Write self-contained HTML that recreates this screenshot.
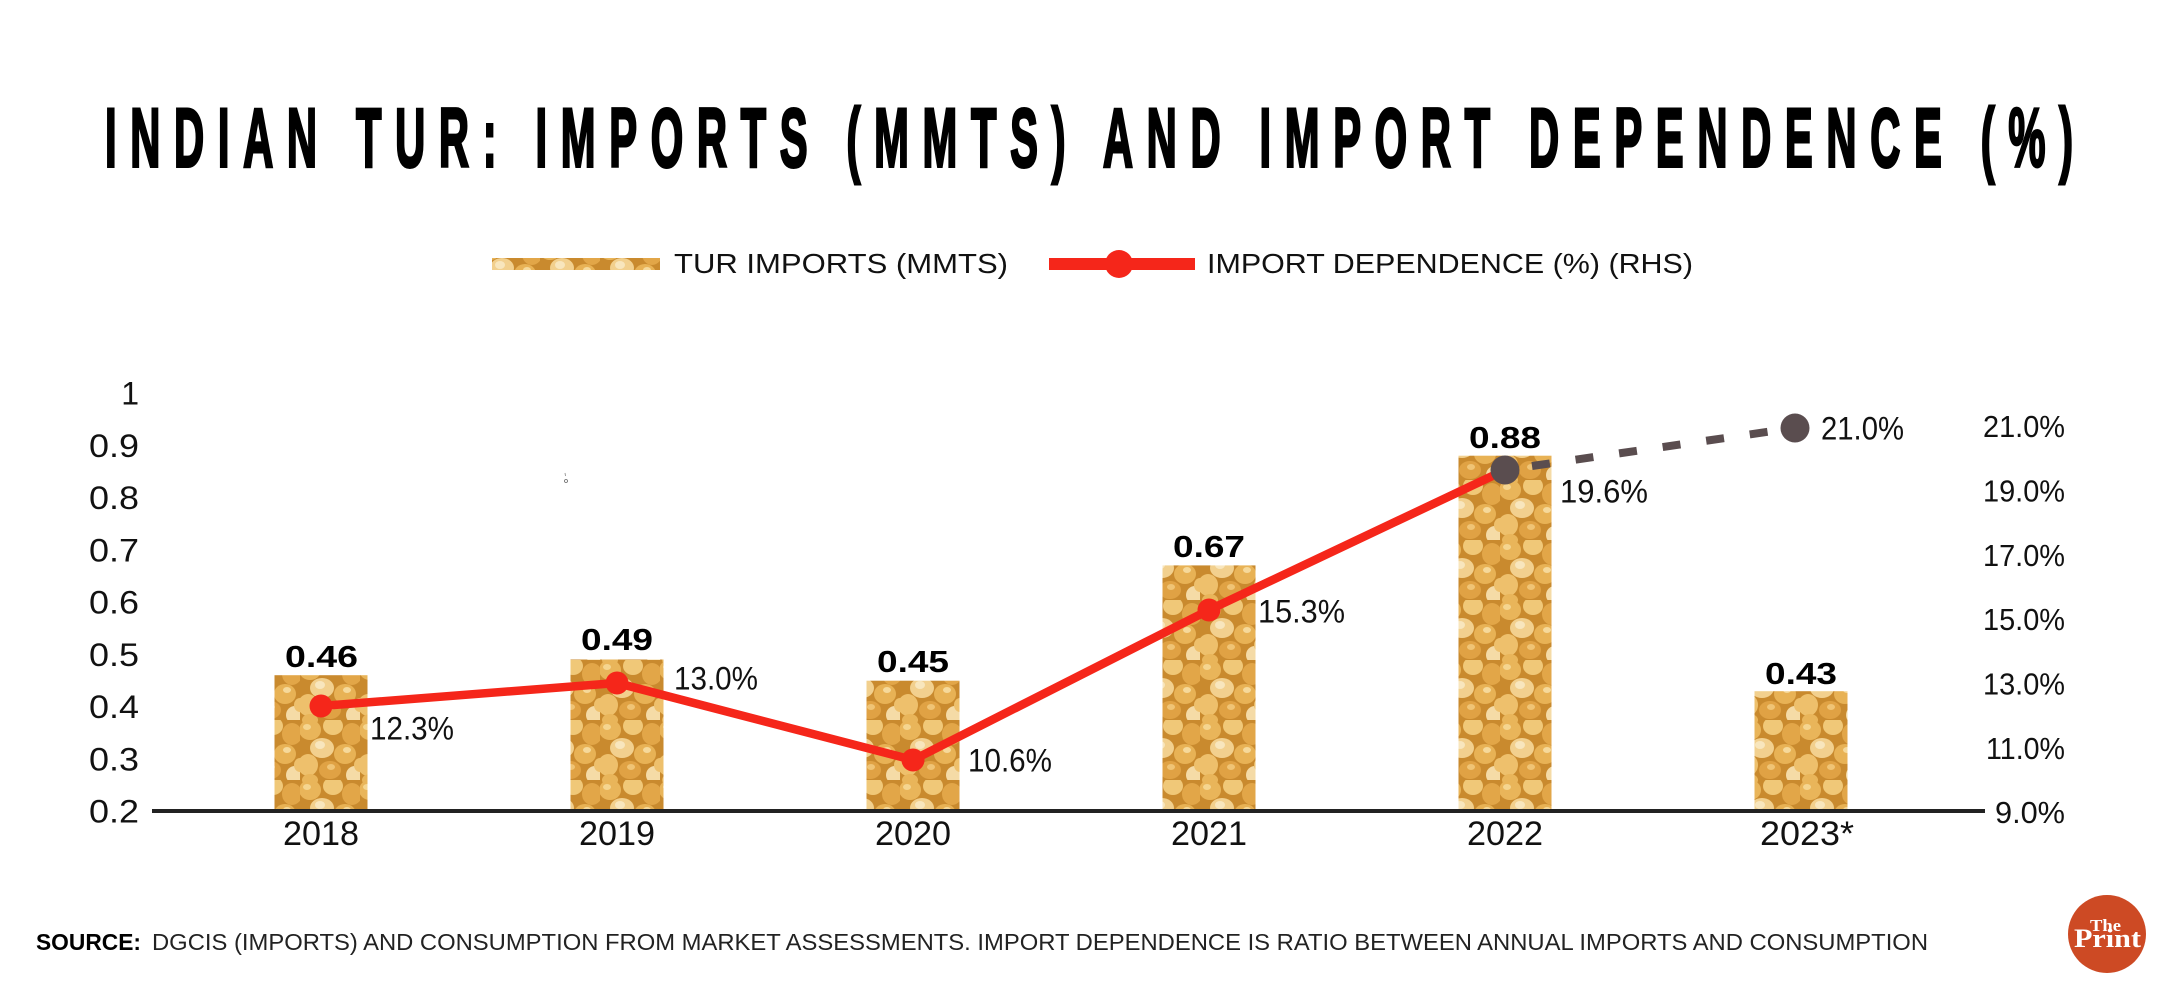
<!DOCTYPE html>
<html>
<head>
<meta charset="utf-8">
<style>
  html, body { margin: 0; padding: 0; background: #ffffff; }
  svg { display: block; }
  text { font-family: "Liberation Sans", "DejaVu Sans", sans-serif; }
</style>
</head>
<body>
<svg width="2162" height="989" viewBox="0 0 2162 989" xmlns="http://www.w3.org/2000/svg">
  <defs>
    <pattern id="dal" width="60" height="60" patternUnits="userSpaceOnUse">
      <rect width="60" height="60" fill="#c98a2e"/>
      <ellipse cx="10" cy="10" rx="11" ry="10" fill="#e9b55a"/>
      <ellipse cx="33" cy="6" rx="10" ry="9" fill="#f0c878"/>
      <ellipse cx="52" cy="14" rx="10" ry="11" fill="#e2a648"/>
      <ellipse cx="22" cy="28" rx="12" ry="10" fill="#f2d08e"/>
      <ellipse cx="45" cy="34" rx="11" ry="10" fill="#e8b255"/>
      <ellipse cx="8" cy="45" rx="10" ry="11" fill="#eec06c"/>
      <ellipse cx="30" cy="50" rx="11" ry="9" fill="#e0a244"/>
      <ellipse cx="55" cy="55" rx="9" ry="9" fill="#f5dba6"/>
      <ellipse cx="60" cy="45" rx="6" ry="7" fill="#eec06c"/>
      <ellipse cx="0" cy="45" rx="6" ry="7" fill="#eec06c"/>
      <ellipse cx="10" cy="60" rx="8" ry="6" fill="#e9b55a"/>
      <ellipse cx="10" cy="0" rx="8" ry="6" fill="#e9b55a"/>
      <ellipse cx="20" cy="25" rx="5" ry="4" fill="#f8e6bd"/>
      <ellipse cx="47" cy="30" rx="4" ry="3" fill="#f6d99a"/>
      <ellipse cx="7" cy="7" rx="4" ry="3" fill="#f5d58f"/>
      <ellipse cx="31" cy="47" rx="4" ry="3" fill="#f0c475"/>
    </pattern>
  </defs>

  <!-- Title -->
  <g transform="translate(105,166.5) scale(0.5,1)">
    <text x="0" y="0" font-size="83.5" font-weight="bold" fill="#000" stroke="#000" stroke-width="3" stroke-linejoin="miter" textLength="3936" lengthAdjust="spacing">INDIAN TUR: IMPORTS (MMTS) AND IMPORT DEPENDENCE (%)</text>
  </g>

  <!-- Legend -->
  <rect x="492" y="258" width="168" height="12" fill="url(#dal)"/>
  <text x="674" y="273" font-size="28" fill="#111" textLength="334" lengthAdjust="spacingAndGlyphs">TUR IMPORTS (MMTS)</text>
  <rect x="1049" y="258" width="146" height="12" fill="#f5261a"/>
  <circle cx="1119" cy="264" r="14" fill="#f5261a"/>
  <text x="1207" y="273" font-size="28" fill="#111" textLength="486" lengthAdjust="spacingAndGlyphs">IMPORT DEPENDENCE (%) (RHS)</text>

  <!-- Left axis labels -->
  <g font-size="32" fill="#111">
    <text x="139" y="404.5" text-anchor="end">1</text>
    <text x="89" y="456.8" textLength="50" lengthAdjust="spacingAndGlyphs">0.9</text>
    <text x="89" y="509" textLength="50" lengthAdjust="spacingAndGlyphs">0.8</text>
    <text x="89" y="561.3" textLength="50" lengthAdjust="spacingAndGlyphs">0.7</text>
    <text x="89" y="613.5" textLength="50" lengthAdjust="spacingAndGlyphs">0.6</text>
    <text x="89" y="665.8" textLength="50" lengthAdjust="spacingAndGlyphs">0.5</text>
    <text x="89" y="718" textLength="50" lengthAdjust="spacingAndGlyphs">0.4</text>
    <text x="89" y="770.3" textLength="50" lengthAdjust="spacingAndGlyphs">0.3</text>
    <text x="89" y="822.5" textLength="50" lengthAdjust="spacingAndGlyphs">0.2</text>
  </g>

  <!-- Right axis labels -->
  <g font-size="31" fill="#111">
    <text x="1983" y="437" textLength="82" lengthAdjust="spacingAndGlyphs">21.0%</text>
    <text x="1983" y="501.4" textLength="82" lengthAdjust="spacingAndGlyphs">19.0%</text>
    <text x="1983" y="565.8" textLength="82" lengthAdjust="spacingAndGlyphs">17.0%</text>
    <text x="1983" y="630.2" textLength="82" lengthAdjust="spacingAndGlyphs">15.0%</text>
    <text x="1983" y="694.6" textLength="82" lengthAdjust="spacingAndGlyphs">13.0%</text>
    <text x="1986" y="759" textLength="79" lengthAdjust="spacingAndGlyphs">11.0%</text>
    <text x="1995" y="823" textLength="70" lengthAdjust="spacingAndGlyphs">9.0%</text>
  </g>

  <!-- Bars -->
  <rect x="274.5" y="675.2" width="93" height="135.8" fill="url(#dal)"/>
  <rect x="570.5" y="659.5" width="93" height="151.5" fill="url(#dal)"/>
  <rect x="866.5" y="680.7" width="93" height="130.3" fill="url(#dal)"/>
  <rect x="1162.5" y="565.4" width="93" height="245.6" fill="url(#dal)"/>
  <rect x="1458.5" y="455.7" width="93" height="355.3" fill="url(#dal)"/>
  <rect x="1754.5" y="691.2" width="93" height="119.8" fill="url(#dal)"/>

  <!-- Axis line -->
  <line x1="152" y1="811" x2="1985" y2="811" stroke="#222" stroke-width="4"/>

  <!-- Bar value labels -->
  <g font-size="31" font-weight="bold" fill="#000">
    <text x="285" y="667" textLength="73" lengthAdjust="spacingAndGlyphs">0.46</text>
    <text x="581" y="650" textLength="72" lengthAdjust="spacingAndGlyphs">0.49</text>
    <text x="877" y="672" textLength="72" lengthAdjust="spacingAndGlyphs">0.45</text>
    <text x="1173" y="557" textLength="72" lengthAdjust="spacingAndGlyphs">0.67</text>
    <text x="1469" y="448" textLength="72" lengthAdjust="spacingAndGlyphs">0.88</text>
    <text x="1765" y="684" textLength="72" lengthAdjust="spacingAndGlyphs">0.43</text>
  </g>

  <!-- Dashed projection -->
  <line x1="1532" y1="466" x2="1794" y2="428" stroke="#5a4d4f" stroke-width="8" stroke-dasharray="18 26"/>

  <!-- Red line -->
  <polyline points="321,706 617,683 913,760 1209,610 1505,470" fill="none" stroke="#f5261a" stroke-width="8.5" stroke-linejoin="round"/>
  <circle cx="321" cy="706" r="11.5" fill="#f5261a"/>
  <circle cx="617" cy="683" r="11.5" fill="#f5261a"/>
  <circle cx="913" cy="760" r="11.5" fill="#f5261a"/>
  <circle cx="1209" cy="610" r="11.5" fill="#f5261a"/>
  <circle cx="1505" cy="470" r="14.5" fill="#5a4d4f"/>
  <circle cx="1795" cy="428" r="14.5" fill="#5a4d4f"/>

  <!-- Point labels -->
  <g font-size="32" fill="#111">
    <text x="370" y="739.5" textLength="84" lengthAdjust="spacingAndGlyphs">12.3%</text>
    <text x="674" y="689.5" textLength="84" lengthAdjust="spacingAndGlyphs">13.0%</text>
    <text x="968" y="771.5" textLength="84" lengthAdjust="spacingAndGlyphs">10.6%</text>
    <text x="1258" y="622.5" textLength="87" lengthAdjust="spacingAndGlyphs">15.3%</text>
    <text x="1560" y="502.5" textLength="88" lengthAdjust="spacingAndGlyphs">19.6%</text>
    <text x="1821" y="439.5" textLength="83" lengthAdjust="spacingAndGlyphs">21.0%</text>
  </g>

  <!-- X labels -->
  <g font-size="34" fill="#111">
    <text x="283" y="845" textLength="76" lengthAdjust="spacingAndGlyphs">2018</text>
    <text x="579" y="845" textLength="76" lengthAdjust="spacingAndGlyphs">2019</text>
    <text x="875" y="845" textLength="76" lengthAdjust="spacingAndGlyphs">2020</text>
    <text x="1171" y="845" textLength="76" lengthAdjust="spacingAndGlyphs">2021</text>
    <text x="1467" y="845" textLength="76" lengthAdjust="spacingAndGlyphs">2022</text>
    <text x="1760" y="845" textLength="94" lengthAdjust="spacingAndGlyphs">2023*</text>
  </g>

  <!-- small artifact -->
  <circle cx="566" cy="481" r="1.5" fill="none" stroke="#666" stroke-width="0.8"/>
  <line x1="565" y1="473" x2="565.5" y2="476" stroke="#888" stroke-width="0.8"/>

  <!-- Footer -->
  <text x="36" y="950" font-size="23" font-weight="bold" fill="#000" textLength="105" lengthAdjust="spacingAndGlyphs">SOURCE:</text>
  <text x="152" y="950" font-size="23" fill="#222" textLength="1776" lengthAdjust="spacingAndGlyphs">DGCIS (IMPORTS) AND CONSUMPTION FROM MARKET ASSESSMENTS. IMPORT DEPENDENCE IS RATIO BETWEEN ANNUAL IMPORTS AND CONSUMPTION</text>

  <!-- ThePrint logo -->
  <circle cx="2107" cy="934" r="39" fill="#cd4a24"/>
  <text x="2090" y="931" font-size="17" font-weight="bold" fill="#fff" textLength="31" lengthAdjust="spacingAndGlyphs" style="font-family:'Liberation Serif', serif">The</text>
  <text x="2074" y="947" font-size="26" font-weight="bold" fill="#fff" textLength="67" lengthAdjust="spacingAndGlyphs" style="font-family:'Liberation Serif', serif">Print</text>
</svg>
</body>
</html>
